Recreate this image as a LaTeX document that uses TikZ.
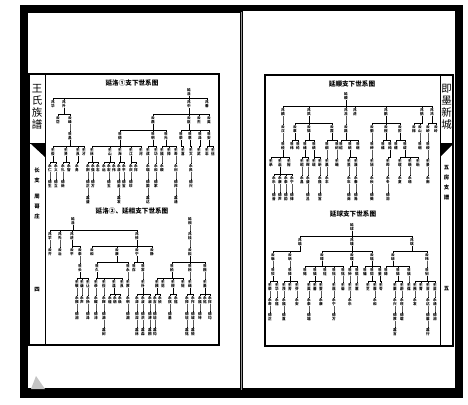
\documentclass[tikz,border=0pt]{standalone}
\usepackage{fontspec}
\setmainfont{Noto Sans CJK SC}
\usetikzlibrary{calc}
\definecolor{ink}{HTML}{000000}
\definecolor{paper}{HTML}{FFFFFF}
\definecolor{spine}{HTML}{9A9A9A}
\definecolor{curl}{HTML}{C4C4C4}
\tikzset{
  nm/.style={anchor=north, inner sep=0.2pt, align=center, font=\fontsize{3.6}{3.9}\selectfont\bfseries},
  ln/.style={draw=ink, line width=0.5pt},
  frm/.style={draw=ink, line width=1.2pt},
  ttl/.style={font=\fontsize{6.6}{7}\selectfont\bfseries},
  side/.style={align=center, font=\fontsize{10.5}{12}\selectfont},
  sidesm/.style={align=center, font=\fontsize{5.4}{10}\selectfont\bfseries}
}
\newcommand{\vn}[2]{#1\\#2}
\newcommand{\kid}[5]{%
  \node[nm] (#2) at (#3,#4) {\vn#5};
  \draw[ln] (#1.south) |- ([yshift=1.8pt]#2.north) -- (#2.north);}

\begin{document}
\begin{tikzpicture}[x=1pt, y=-1pt]
  \useasboundingbox (0,0) rectangle (468,404);
  \fill[paper] (0,0) rectangle (468,404);

  % book cover and pages
  \fill[ink] (20,5) rectangle (463,398);
  \fill[paper] (28,13) rectangle (240,388);
  \fill[paper] (243,11) rectangle (455,388);
  \draw[spine, line width=1.2pt] (241.5,12) -- (241.5,390);
  \fill[curl] (31,389) -- (36,376) -- (45,389) -- cycle;

  % left page frame
  \draw[frm] (29,74) rectangle (219,345);
  \draw[ink, line width=0.8pt] (45,74) -- (45,345);
  \draw[ink, line width=0.8pt] (29,143) -- (45,143);
  \fill[ink] (31,144) -- (45,144) -- (45,157) -- cycle;
  \node[side] (lname) at (37,107) {王\\氏\\族\\譜};
  \node[sidesm] (lbr) at (37,175) {长\\支};
  \node[sidesm] (lvil) at (37,207) {周\\哥\\庄};
  \node[sidesm] (lpg) at (37,290) {四};

  % right page frame
  \draw[frm] (265,75) rectangle (453,346);
  \draw[ink, line width=0.8pt] (440,75) -- (440,346);
  \draw[ink, line width=0.8pt] (440,143) -- (453,143);
  \fill[ink] (440,144) -- (453,144) -- (440,157) -- cycle;
  \node[side] (rname) at (446.5,107) {即\\墨\\新\\城};
  \node[sidesm] (rbr) at (446.5,183) {五\\房\\支\\譜};
  \node[sidesm] (rpg) at (446.5,289) {五};

  % titles
  \node[ttl] (t1) at (132,83) {延洛①支下世系图};
  \node[ttl] (t2) at (132,211) {延洛②、延相支下世系图};
  \node[ttl] (t3) at (352,84) {延顺支下世系图};
  \node[ttl] (t4) at (353,214) {延球支下世系图};

  % 延洛①
  \node[nm] (a0) at (189,88) {\vn 延洛};
  \kid{a0}{a1}{53}{100}{兆华}
  \kid{a0}{a2}{64}{100}{兆升}
  \kid{a0}{a3}{189}{100}{兆中}
  \kid{a0}{a4}{207}{100}{兆春}
  \kid{a2}{b1}{58}{116}{云岱}
  \kid{a2}{b2}{70}{116}{云峰}
  \kid{a3}{b3}{153}{116}{云鼎}
  \kid{a3}{b4}{189}{116}{云臣}
  \kid{a3}{b5}{199}{116}{云杰}
  \kid{a3}{b6}{209}{116}{云英}
  \kid{b2}{c1}{70}{132}{世昌}
  \kid{b3}{c2}{120}{132}{世德}
  \kid{b3}{c3}{153}{132}{世明}
  \kid{b3}{c4}{166}{132}{世光}
  \kid{b4}{c5}{181}{132}{世荣}
  \kid{b4}{c6}{190}{132}{世恩}
  \kid{b4}{c7}{200}{132}{世泽}
  \kid{b4}{c8}{209}{132}{世安}
  \kid{c1}{d1}{53}{148}{丕俊}
  \kid{c1}{d2}{66}{148}{丕贤}
  \kid{c1}{d3}{78}{148}{丕良}
  \kid{c1}{d4}{84}{148}{丕才}
  \kid{c2}{d5}{92}{148}{丕林}
  \kid{c2}{d6}{110}{148}{丕山}
  \kid{c2}{d7}{120}{148}{丕海}
  \kid{c2}{d8}{131}{148}{丕江}
  \kid{c2}{d9}{141}{148}{丕河}
  \kid{c3}{d10}{148}{148}{丕成}
  \kid{c3}{d11}{156}{148}{丕功}
  \kid{c4}{d12}{162}{148}{丕福}
  \kid{c4}{d13}{169}{148}{丕禄}
  \kid{c4}{d14}{176}{148}{丕寿}
  \kid{c5}{d15}{183}{148}{丕喜}
  \kid{c6}{d16}{191}{148}{丕文}
  \kid{c7}{d17}{199}{148}{丕武}
  \kid{c8}{d18}{207}{148}{丕忠}
  \kid{c8}{d19}{213}{148}{丕信}
  \kid{d1}{e1}{50}{164}{永仁}
  \kid{d1}{e2}{56}{164}{永义}
  \kid{d2}{e3}{63}{164}{永礼}
  \kid{d2}{e4}{69}{164}{永智}
  \kid{d3}{e5}{77}{164}{永勇}
  \kid{d5}{e6}{88}{164}{永刚}
  \kid{d5}{e7}{93}{164}{永强}
  \kid{d5}{e8}{98}{164}{永志}
  \kid{d6}{e9}{104}{164}{永远}
  \kid{d6}{e10}{109}{164}{永宏}
  \kid{d6}{e11}{114}{164}{永伟}
  \kid{d7}{e12}{119}{164}{永清}
  \kid{d7}{e13}{124}{164}{永平}
  \kid{d8}{e14}{131}{164}{永庆}
  \kid{d8}{e15}{136}{164}{永祥}
  \kid{d10}{e16}{148}{164}{永瑞}
  \kid{d11}{e17}{156}{164}{永和}
  \kid{d12}{e18}{162}{164}{永顺}
  \kid{d14}{e19}{176}{164}{永利}
  \kid{d16}{e20}{191}{164}{永民}
  \kid{e1}{f1}{50}{180}{德生}
  \kid{e2}{f2}{56}{180}{德立}
  \kid{e3}{f3}{63}{180}{德新}
  \kid{e6}{f4}{88}{180}{德正}
  \kid{e7}{f5}{93}{180}{德方}
  \kid{e10}{f6}{109}{180}{德玉}
  \kid{e12}{f7}{119}{180}{德金}
  \kid{e13}{f8}{124}{180}{德宝}
  \kid{e14}{f9}{131}{180}{德珍}
  \kid{e16}{f10}{148}{180}{德国}
  \kid{e17}{f11}{156}{180}{德家}
  \kid{e19}{f12}{176}{180}{德邦}
  \kid{e20}{f13}{191}{180}{德兴}
  \kid{f4}{g1}{88}{196}{嘉盛}
  \kid{f7}{g2}{119}{196}{嘉发}
  \kid{f10}{g3}{148}{196}{嘉达}
  \kid{f12}{g4}{176}{196}{嘉通}

  % 延洛②
  \node[nm] (m0) at (73,217) {\vn 延洛};
  \kid{m0}{m1}{50}{232}{兆学}
  \kid{m0}{m2}{60}{232}{兆先}
  \kid{m0}{m3}{72}{232}{兆进}
  \kid{m0}{m4}{137}{232}{兆修}
  \kid{m1}{m5}{50}{248}{云齐}
  \kid{m2}{m6}{60}{248}{云治}
  \kid{m3}{m7}{72}{248}{云平}
  \kid{m3}{m8}{80}{248}{云泰}
  \kid{m4}{m9}{92}{248}{云和}
  \kid{m4}{m10}{117}{248}{云康}
  \kid{m4}{m11}{137}{248}{云宁}
  \kid{m4}{m12}{152}{248}{云静}
  \kid{m8}{m13}{80}{264}{世长}
  \kid{m10}{m14}{97}{264}{世久}
  \kid{m10}{m15}{128}{264}{世永}
  \kid{m11}{m16}{134}{264}{世存}
  \kid{m11}{m17}{143}{264}{世常}
  \kid{m13}{m18}{77}{280}{丕敬}
  \kid{m13}{m19}{82}{280}{丕谦}
  \kid{m13}{m20}{88}{280}{丕让}
  \kid{m14}{m21}{96}{280}{丕恭}
  \kid{m14}{m22}{104}{280}{丕俭}
  \kid{m14}{m23}{114}{280}{丕温}
  \kid{m14}{m24}{122}{280}{丕良}
  \kid{m15}{m25}{128}{280}{丕厚}
  \kid{m17}{m26}{143}{280}{丕朴}
  \kid{m18}{m27}{77}{296}{永振}
  \kid{m19}{m28}{82}{296}{永声}
  \kid{m20}{m29}{88}{296}{永扬}
  \kid{m21}{m30}{96}{296}{永耀}
  \kid{m22}{m31}{104}{296}{永辉}
  \kid{m23}{m32}{110}{296}{永煌}
  \kid{m23}{m33}{115}{296}{永炳}
  \kid{m23}{m34}{120}{296}{永焕}
  \kid{m25}{m35}{128}{296}{永明}
  \kid{m26}{m36}{137}{296}{永涛}
  \kid{m26}{m37}{143}{296}{永波}
  \kid{m26}{m38}{150}{296}{永澜}
  \kid{m27}{m39}{77}{312}{德润}
  \kid{m29}{m40}{88}{312}{德泽}
  \kid{m30}{m41}{96}{312}{德沛}
  \kid{m31}{m42}{104}{312}{德源}
  \kid{m35}{m43}{128}{312}{德渊}
  \kid{m36}{m44}{137}{312}{德深}
  \kid{m37}{m45}{143}{312}{德洪}
  \kid{m38}{m46}{150}{312}{德溥}
  \kid{m42}{m47}{104}{328}{嘉树}
  \kid{m44}{m48}{137}{328}{嘉林}
  \kid{m45}{m49}{143}{328}{嘉森}
  \kid{m46}{m50}{150}{328}{嘉桐}

  % 延相
  \node[nm] (n0) at (190,217) {\vn 延相};
  \kid{n0}{n1}{190}{232}{兆桂}
  \kid{n1}{n2}{190}{248}{云松}
  \kid{n2}{n3}{172}{264}{世柏}
  \kid{n2}{n4}{190}{264}{世桧}
  \kid{n2}{n5}{205}{264}{世楷}
  \kid{n3}{n6}{157}{280}{丕模}
  \kid{n3}{n7}{163}{280}{丕范}
  \kid{n3}{n8}{173}{280}{丕规}
  \kid{n3}{n9}{183}{280}{丕矩}
  \kid{n4}{n10}{190}{280}{丕绳}
  \kid{n5}{n11}{205}{280}{丕墨}
  \kid{n6}{n12}{155}{296}{永吉}
  \kid{n6}{n13}{160}{296}{永祯}
  \kid{n8}{n14}{170}{296}{永祺}
  \kid{n8}{n15}{176}{296}{永禧}
  \kid{n10}{n16}{187}{296}{永禄}
  \kid{n10}{n17}{193}{296}{永祚}
  \kid{n11}{n18}{200}{296}{永福}
  \kid{n11}{n19}{205}{296}{永祐}
  \kid{n11}{n20}{210}{296}{永祥}
  \kid{n12}{n21}{155}{312}{德培}
  \kid{n14}{n22}{170}{312}{德基}
  \kid{n16}{n23}{187}{312}{德垣}
  \kid{n17}{n24}{193}{312}{德城}
  \kid{n18}{n25}{200}{312}{德坤}
  \kid{n20}{n26}{210}{312}{德均}
  \kid{n21}{n27}{155}{328}{嘉钧}
  \kid{n23}{n28}{187}{328}{嘉铭}
  \kid{n24}{n29}{193}{328}{嘉锐}

  % 延顺
  \node[nm] (k0) at (346,92) {\vn 延顺};
  \kid{k0}{k1}{283}{108}{兆麟}
  \kid{k0}{k2}{309}{108}{兆凤}
  \kid{k0}{k3}{346}{108}{兆龙}
  \kid{k0}{k4}{355}{108}{兆虎}
  \kid{k0}{k5}{386}{108}{兆鹏}
  \kid{k0}{k6}{422}{108}{兆鹤}
  \kid{k0}{k7}{432}{108}{兆鸿}
  \kid{k1}{k8}{283}{125}{云汉}
  \kid{k2}{k9}{295}{125}{云章}
  \kid{k2}{k10}{309}{125}{云锦}
  \kid{k2}{k11}{332}{125}{云霞}
  \kid{k3}{k12}{346}{125}{云路}
  \kid{k5}{k13}{372}{125}{云衢}
  \kid{k5}{k14}{386}{125}{云程}
  \kid{k5}{k15}{400}{125}{云阶}
  \kid{k6}{k16}{414}{125}{云梯}
  \kid{k6}{k17}{420}{125}{云山}
  \kid{k7}{k18}{428}{125}{云峤}
  \kid{k7}{k19}{436}{125}{云岭}
  \kid{k8}{k20}{283}{142}{世经}
  \kid{k9}{k21}{292}{142}{世纬}
  \kid{k9}{k22}{298}{142}{世纶}
  \kid{k10}{k23}{305}{142}{世绪}
  \kid{k10}{k24}{314}{142}{世绩}
  \kid{k11}{k25}{327}{142}{世纲}
  \kid{k11}{k26}{337}{142}{世纪}
  \kid{k12}{k27}{341}{142}{世绍}
  \kid{k12}{k28}{350}{142}{世统}
  \kid{k12}{k29}{358}{142}{世继}
  \kid{k13}{k30}{372}{142}{世绅}
  \kid{k14}{k31}{383}{142}{世维}
  \kid{k14}{k32}{390}{142}{世纯}
  \kid{k15}{k33}{396}{142}{世缙}
  \kid{k15}{k34}{405}{142}{世绂}
  \kid{k17}{k35}{420}{142}{世缃}
  \kid{k18}{k36}{428}{142}{世绶}
  \kid{k20}{k37}{271}{159}{丕承}
  \kid{k20}{k38}{280}{159}{丕启}
  \kid{k20}{k39}{289}{159}{丕裕}
  \kid{k23}{k40}{302}{159}{丕昭}
  \kid{k23}{k41}{308}{159}{丕晖}
  \kid{k24}{k42}{314}{159}{丕晓}
  \kid{k24}{k43}{320}{159}{丕昕}
  \kid{k25}{k44}{327}{159}{丕晨}
  \kid{k26}{k45}{337}{159}{丕曦}
  \kid{k28}{k46}{349}{159}{丕昱}
  \kid{k28}{k47}{356}{159}{丕晟}
  \kid{k30}{k48}{372}{159}{丕旭}
  \kid{k32}{k49}{388}{159}{丕晔}
  \kid{k34}{k50}{400}{159}{丕暄}
  \kid{k34}{k51}{410}{159}{丕暾}
  \kid{k34}{k52}{418}{159}{丕晰}
  \kid{k36}{k53}{428}{159}{丕景}
  \kid{k38}{k54}{274}{176}{永乐}
  \kid{k38}{k55}{280}{176}{永康}
  \kid{k38}{k56}{286}{176}{永泰}
  \kid{k38}{k57}{292}{176}{永宁}
  \kid{k40}{k58}{302}{176}{永昌}
  \kid{k41}{k59}{308}{176}{永盛}
  \kid{k43}{k60}{320}{176}{永隆}
  \kid{k44}{k61}{327}{176}{永丰}
  \kid{k46}{k62}{349}{176}{永年}
  \kid{k47}{k63}{356}{176}{永春}
  \kid{k48}{k64}{372}{176}{永秋}
  \kid{k49}{k65}{388}{176}{永冬}
  \kid{k50}{k66}{400}{176}{永夏}
  \kid{k51}{k67}{410}{176}{永晴}
  \kid{k53}{k68}{428}{176}{永雨}
  \kid{k54}{k69}{274}{193}{德音}
  \kid{k55}{k70}{280}{193}{德声}
  \kid{k56}{k71}{286}{193}{德韵}
  \kid{k57}{k72}{292}{193}{德律}
  \kid{k59}{k73}{308}{193}{德吕}
  \kid{k60}{k74}{320}{193}{德宫}
  \kid{k62}{k75}{349}{193}{德商}
  \kid{k63}{k76}{356}{193}{德角}
  \kid{k64}{k77}{372}{193}{德徵}
  \kid{k65}{k78}{388}{193}{德羽}

  % 延球
  \node[nm] (j0) at (352,223) {\vn 延球};
  \kid{j0}{j1}{300}{238}{兆瑜}
  \kid{j0}{j2}{352}{238}{兆瑾}
  \kid{j0}{j3}{412}{238}{兆琪}
  \kid{j1}{j4}{273}{253}{云琳}
  \kid{j1}{j5}{290}{253}{云琅}
  \kid{j2}{j6}{322}{253}{云璋}
  \kid{j2}{j7}{352}{253}{云璞}
  \kid{j2}{j8}{372}{253}{云瑶}
  \kid{j3}{j9}{393}{253}{云琼}
  \kid{j3}{j10}{427}{253}{云玮}
  \kid{j4}{j11}{273}{268}{世钦}
  \kid{j5}{j12}{290}{268}{世铎}
  \kid{j6}{j13}{305}{268}{世锡}
  \kid{j6}{j14}{315}{268}{世镇}
  \kid{j6}{j15}{325}{268}{世铨}
  \kid{j6}{j16}{334}{268}{世钰}
  \kid{j6}{j17}{343}{268}{世铭}
  \kid{j7}{j18}{350}{268}{世钟}
  \kid{j7}{j19}{357}{268}{世锟}
  \kid{j8}{j20}{365}{268}{世镛}
  \kid{j8}{j21}{372}{268}{世铠}
  \kid{j8}{j22}{380}{268}{世鉴}
  \kid{j9}{j23}{386}{268}{世铸}
  \kid{j9}{j24}{398}{268}{世锦}
  \kid{j9}{j25}{409}{268}{世镐}
  \kid{j10}{j26}{427}{268}{世钊}
  \kid{j11}{j27}{270}{283}{丕荣}
  \kid{j11}{j28}{277}{283}{丕华}
  \kid{j12}{j29}{284}{283}{丕茂}
  \kid{j12}{j30}{290}{283}{丕芳}
  \kid{j12}{j31}{297}{283}{丕芬}
  \kid{j14}{j32}{309}{283}{丕英}
  \kid{j14}{j33}{315}{283}{丕蕃}
  \kid{j14}{j34}{321}{283}{丕萱}
  \kid{j16}{j35}{334}{283}{丕莲}
  \kid{j17}{j36}{343}{283}{丕菊}
  \kid{j18}{j37}{350}{283}{丕兰}
  \kid{j19}{j38}{357}{283}{丕蕙}
  \kid{j21}{j39}{368}{283}{丕芝}
  \kid{j21}{j40}{375}{283}{丕蓉}
  \kid{j22}{j41}{381}{283}{丕苓}
  \kid{j24}{j42}{395}{283}{丕蓁}
  \kid{j24}{j43}{402}{283}{丕蔚}
  \kid{j25}{j44}{409}{283}{丕葆}
  \kid{j26}{j45}{415}{283}{丕茜}
  \kid{j26}{j46}{421}{283}{丕菁}
  \kid{j26}{j47}{428}{283}{丕芸}
  \kid{j26}{j48}{435}{283}{丕苗}
  \kid{j27}{j49}{270}{298}{永寿}
  \kid{j28}{j50}{277}{298}{永禧}
  \kid{j29}{j51}{284}{298}{永福}
  \kid{j31}{j52}{297}{298}{永安}
  \kid{j32}{j53}{309}{298}{永泰}
  \kid{j34}{j54}{321}{298}{永康}
  \kid{j35}{j55}{334}{298}{永宁}
  \kid{j37}{j56}{350}{298}{永乐}
  \kid{j40}{j57}{375}{298}{永和}
  \kid{j42}{j58}{395}{298}{永兴}
  \kid{j43}{j59}{402}{298}{永旺}
  \kid{j45}{j60}{415}{298}{永发}
  \kid{j47}{j61}{428}{298}{永达}
  \kid{j48}{j62}{435}{298}{永通}
  \kid{j49}{j63}{270}{313}{德正}
  \kid{j51}{j64}{284}{313}{德直}
  \kid{j53}{j65}{309}{313}{德端}
  \kid{j55}{j66}{334}{313}{德方}
  \kid{j58}{j67}{395}{313}{德厚}
  \kid{j59}{j68}{402}{313}{德载}
  \kid{j61}{j69}{428}{313}{德馨}
  \kid{j62}{j70}{435}{313}{德润}
  \kid{j67}{j71}{395}{328}{嘉言}
  \kid{j69}{j72}{428}{328}{嘉行}
\end{tikzpicture}
\end{document}
